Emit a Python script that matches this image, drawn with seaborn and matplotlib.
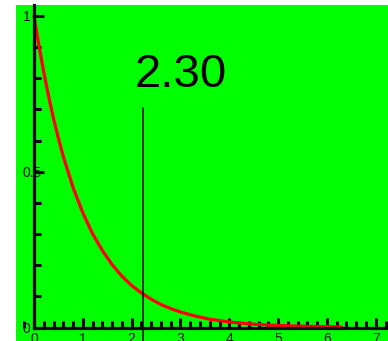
import matplotlib
matplotlib.use("Agg")
import matplotlib.pyplot as plt
import seaborn as sns
import numpy as np
from matplotlib.ticker import MultipleLocator

# values
curve_x = [0.0, 0.1, 0.2, 0.3, 0.4, 0.5, 0.6, 0.8, 1.0, 1.2, 1.4, 1.6, 1.8, 2.0,
           2.2, 2.4, 2.6, 2.8, 3.0, 3.3, 3.6, 4.0, 4.4, 4.8, 5.2, 5.6, 6.0, 6.3]
curve_y = [1.0, 0.905, 0.819, 0.741, 0.670, 0.607, 0.549, 0.449, 0.368, 0.301,
           0.247, 0.202, 0.165, 0.135, 0.111, 0.091, 0.074, 0.061, 0.050, 0.037,
           0.027, 0.018, 0.012, 0.008, 0.006, 0.004, 0.003, 0.002]
marker_x = 2.23
marker_top = 0.705
marker_label = "2.30"
x_ticks = [0, 1, 2, 3, 4, 5, 6, 7]
y_ticks = [0, 0.5, 1]
y_tick_labels = ["0", "0.5", "1"]

sns.set_style("white")
plt.rcParams['font.family'] = ['Liberation Sans', 'DejaVu Sans']

W, H = 388, 341
fig = plt.figure(figsize=(W / 100, H / 100), dpi=100)
ax = fig.add_axes([16 / W, 0, 1 - 16 / W, 1 - 5 / H])
ax.set_facecolor("#00ff00")

sns.lineplot(x=curve_x, y=curve_y, ax=ax, color="#ff0000", linewidth=2.3,
             estimator=None, sort=False)

xmin, xmax = -0.369, 7.25
ymin, ymax = -0.043, 1.035
ax.set_xlim(xmin, xmax)
ax.set_ylim(ymin, ymax)

ax.plot([marker_x, marker_x], [ymin, marker_top], color="black", linewidth=1.1)
ax.text(3.0, 0.81, marker_label, fontsize=34, ha="center", va="center",
        color="black")

for s in ["top", "right"]:
    ax.spines[s].set_visible(False)
ax.spines["left"].set_position(("data", 0))
ax.spines["bottom"].set_position(("data", 0))
ax.spines["left"].set_bounds(0, ymax)
ax.spines["bottom"].set_bounds(0, xmax)
for s in ["left", "bottom"]:
    ax.spines[s].set_linewidth(2.3)
    ax.spines[s].set_color("black")
    ax.spines[s].set_zorder(5)

ax.set_xticks(x_ticks)
ax.set_yticks(y_ticks)
ax.set_yticklabels(y_tick_labels)
ax.xaxis.set_minor_locator(MultipleLocator(0.2))
ax.yaxis.set_minor_locator(MultipleLocator(0.1))
ax.tick_params(which="both", direction="in", color="black", width=2.2,
               labelsize=10, labelcolor="#111111")
ax.tick_params(which="major", length=7)
ax.tick_params(which="minor", length=5)
ax.tick_params(axis="x", pad=3, bottom=True, which="both")
ax.tick_params(axis="y", pad=8, left=True, which="both")
for lab in ax.get_yticklabels():
    lab.set_ha("left")

fig.savefig("out.png", dpi=100)
